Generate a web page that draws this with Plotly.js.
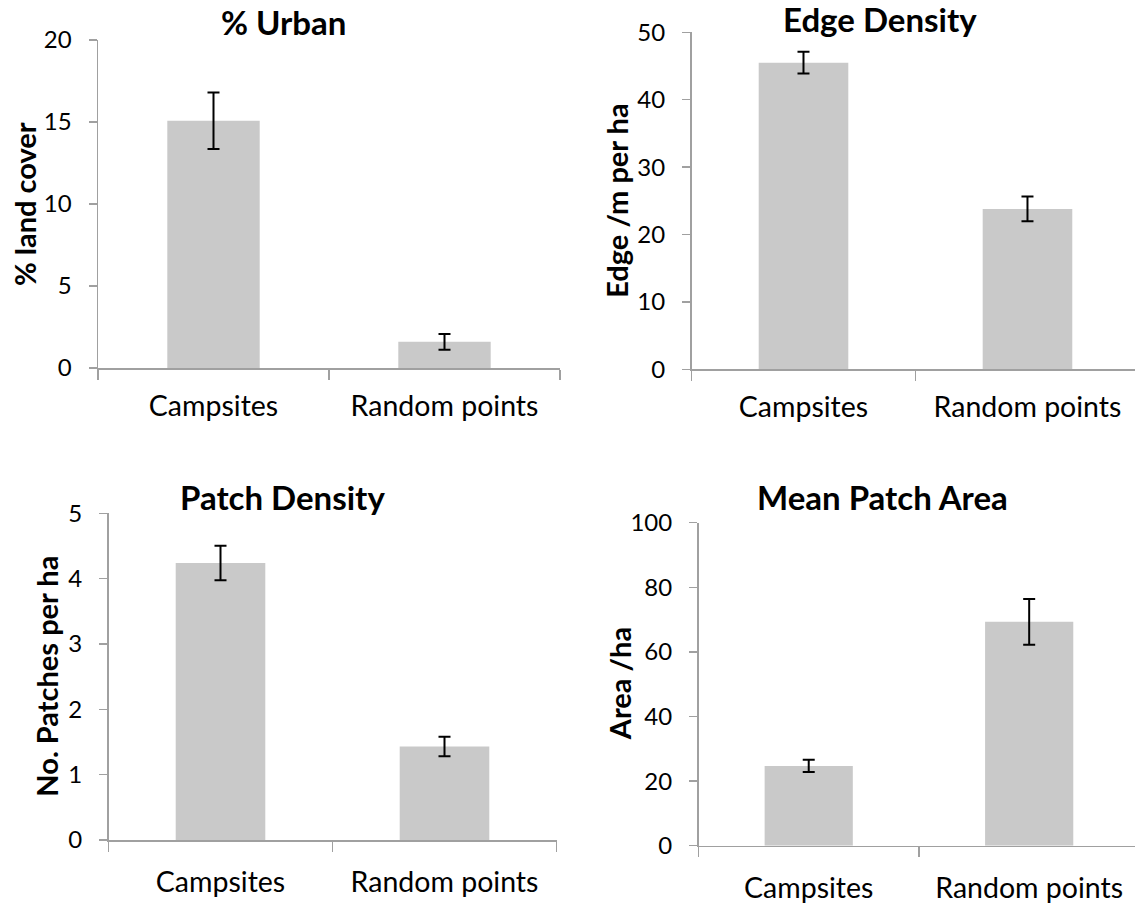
<!DOCTYPE html>
<html>
<head>
<meta charset="utf-8">
<script src="https://cdn.plot.ly/plotly-3.0.1.min.js"></script>
<style>
  html, body { margin: 0; padding: 0; background: #ffffff; }
  #chart { width: 1135px; height: 903px; }
</style>
</head>
<body>
<div id="chart"></div>
<script>
// ---- data ----
const categories = ["Campsites", "Random points"];

const urbanMean = [15.08, 1.60];
const urbanErr  = [1.72, 0.48];

const edgeMean  = [45.5, 23.8];
const edgeErr   = [1.6, 1.85];

const patchMean = [4.24, 1.43];
const patchErr  = [0.265, 0.15];

const areaMean  = [24.7, 69.3];
const areaErr   = [1.9, 7.05];

const panelTitles = ["% Urban", "Edge Density", "Patch Density", "Mean Patch Area"];
const yTitles     = ["% land cover", "Edge /m per ha", "No. Patches per ha", "Area /ha"];
const yMax        = [20, 50, 5, 100];
const yStep       = [5, 10, 1, 20];

// ---- layout (pixels) ----
const W = 1135, H = 903;
const px = v => v / W;
const py = v => 1 - v / H;

// [left, right, top, bottom, xRangeEnd, xLabelStandoff]
const boxes = [
  [98,    560,  40.0, 368.0, 1.5, 12],
  [691.5, 1135, 32.3, 369.3, 1.48, 12],
  [108.5, 556.5, 513.3, 840.0, 1.5, 16],
  [698.5, 1135, 522.7, 845.7, 1.48, 17]
];
const titlePos  = [[283.5, 36], [880, 33], [282, 511], [882, 511]];
const yTitlePos = [24, 617, 47, 619];

const means = [urbanMean, edgeMean, patchMean, areaMean];
const errs  = [urbanErr, edgeErr, patchErr, areaErr];

const FONT = "Lato, 'Open Sans', sans-serif";
const AXIS = "#a0a0a0";

const data = [];
const layout = {
  width: W, height: H,
  margin: {l: 0, r: 0, t: 0, b: 0},
  paper_bgcolor: "#ffffff",
  plot_bgcolor: "#ffffff",
  showlegend: false,
  bargap: 0.6,
  annotations: []
};

for (let i = 0; i < 4; i++) {
  const n = i === 0 ? "" : String(i + 1);
  data.push({
    type: "bar",
    x: categories,
    y: means[i],
    xaxis: "x" + n,
    yaxis: "y" + n,
    marker: {color: "#c9c9c9"},
    error_y: {type: "data", array: errs[i], visible: true, color: "#000000", thickness: 2, width: 6},
    hoverinfo: "x+y"
  });
  const b = boxes[i];
  layout["xaxis" + n] = {
    domain: [px(b[0]), px(b[1])],
    anchor: "y" + n,
    type: "category",
    range: [-0.5, b[4]],
    showline: true, linecolor: AXIS, linewidth: 1.5,
    ticks: "outside", tickson: "boundaries", ticklen: 10, tickcolor: AXIS, tickwidth: 1.5,
    showgrid: false, zeroline: false,
    tickfont: {family: FONT, size: 28.5, color: "#000000"},
    ticklabelstandoff: b[5],
    fixedrange: true
  };
  layout["yaxis" + n] = {
    domain: [py(b[3]), py(b[2])],
    anchor: "x" + n,
    range: [0, yMax[i]],
    tick0: 0, dtick: yStep[i],
    showline: true, linecolor: AXIS, linewidth: 1.5,
    ticks: "outside", ticklen: 8, tickcolor: AXIS, tickwidth: 1.5,
    showgrid: false, zeroline: false,
    tickfont: {family: FONT, size: 24, color: "#000000"},
    ticklabelstandoff: 12,
    fixedrange: true
  };
  layout.annotations.push({
    text: panelTitles[i],
    xref: "paper", yref: "paper",
    x: px(titlePos[i][0]), y: py(titlePos[i][1] + 8),
    xanchor: "center", yanchor: "bottom",
    showarrow: false,
    font: {family: FONT, size: 33, color: "#000000", weight: "bold"}
  });
  layout.annotations.push({
    text: yTitles[i],
    xref: "paper", yref: "paper",
    x: px(yTitlePos[i]), y: py((b[2] + b[3]) / 2),
    xanchor: "center", yanchor: "middle",
    textangle: -90,
    showarrow: false,
    font: {family: FONT, size: 29, color: "#000000", weight: "bold"}
  });
}

Plotly.newPlot("chart", data, layout, {displayModeBar: false, staticPlot: true});
</script>
</body>
</html>
